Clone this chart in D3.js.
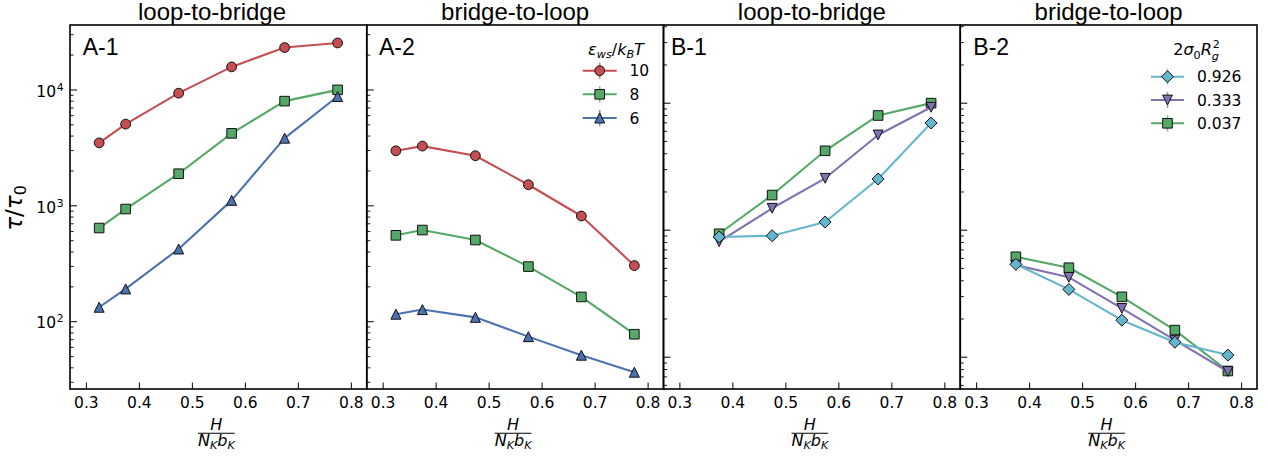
<!DOCTYPE html>
<html>
<head>
<meta charset="utf-8">
<script src="https://cdn.jsdelivr.net/npm/d3@7"></script>
<style>
  body { margin: 0; background: #fff; }
  svg { display: block; }
</style>
</head>
<body>
<svg id="fig" width="1268" height="459"></svg>
<script>
// ---- data ---------------------------------------------------------------
const hValuesA = [0.325, 0.375, 0.475, 0.575, 0.675, 0.775];
const hValuesB = [0.375, 0.475, 0.575, 0.675, 0.775];

const xTickValues = [0.3, 0.4, 0.5, 0.6, 0.7, 0.8];
const yMajorExponents = [1, 2, 3, 4];

const panelNames = ["A-1", "A-2", "B-1", "B-2"];
const panelTitles = ["loop-to-bridge", "bridge-to-loop", "loop-to-bridge", "bridge-to-loop"];

const epsLabels = ["10", "8", "6"];
const sigmaLabels = ["0.926", "0.333", "0.037"];

// tau / tau0, loop-to-bridge, by wall-segment attraction eps_ws/kBT
const eps10LoopToBridge = [3460, 5020, 9290, 15660, 23000, 25200];
const eps8LoopToBridge  = [637, 929, 1874, 4180, 7930, 9920];
const eps6LoopToBridge  = [132, 190, 420, 1104, 3800, 8700];

// tau / tau0, bridge-to-loop
const eps10BridgeToLoop = [2955, 3245, 2680, 1506, 809, 302];
const eps8BridgeToLoop  = [551, 612, 502, 296, 162, 77.2];
const eps6BridgeToLoop  = [115, 126, 108, 73.6, 50.9, 36.3];

// tau / tau0 by grafting density 2 sigma0 Rg^2
const sigma0926LoopToBridge = [877, 897, 1150, 2507, 6920];
const sigma0333LoopToBridge = [805, 1475, 2540, 5570, 9200];
const sigma0037LoopToBridge = [929, 1874, 4180, 7930, 9920];

const sigma0926BridgeToLoop = [534, 339, 194, 130, 103];
const sigma0333BridgeToLoop = [527, 422, 240, 135, 76.5];
const sigma0037BridgeToLoop = [612, 502, 296, 162, 77.2];

// ---- styling ------------------------------------------------------------
const RED = "#c44e52", GREEN = "#55a868", BLUE = "#4c72b0",
      PURPLE = "#8172b2", CYAN = "#64b5cd";

// marker shapes for d3.symbol; size = (full extent in px)^2
const mkCircle = { draw(c, s) { const r = Math.sqrt(s) / 2; c.moveTo(r, 0); c.arc(0, 0, r, 0, 2 * Math.PI); } };
const mkSquare = { draw(c, s) { const h = Math.sqrt(s) / 2; c.rect(-h, -h, 2 * h, 2 * h); } };
const mkTriUp = { draw(c, s) { const h = Math.sqrt(s) / 2; c.moveTo(0, -h); c.lineTo(h, h); c.lineTo(-h, h); c.closePath(); } };
const mkTriDown = { draw(c, s) { const h = Math.sqrt(s) / 2; c.moveTo(0, h); c.lineTo(h, -h); c.lineTo(-h, -h); c.closePath(); } };
const mkDiamond = { draw(c, s) { const h = Math.sqrt(s) / 2; c.moveTo(0, -h); c.lineTo(h, 0); c.lineTo(0, h); c.lineTo(-h, 0); c.closePath(); } };

const markerSize = new Map([[mkCircle, 9.8], [mkSquare, 9.6], [mkTriUp, 10], [mkTriDown, 9.8], [mkDiamond, 12]]);

// ---- layout -------------------------------------------------------------
const svg = d3.select("#fig");
const plotTop = 25, plotBottom = 389;
const firstLeft = 70, panelW = 296.75;
const titleX = [212, null, null, null];
const labelX = [82.7, 379, 671, 973.3];

const yA = d3.scaleLog().domain([26, 36000]).range([plotBottom, plotTop]);
const yB = d3.scaleLog().domain([55.7, 40900]).range([plotBottom, plotTop]);

const panels = [
  { y: yA, yLabels: true, xs: hValuesA,
    series: [
      { v: eps10LoopToBridge, color: RED, marker: mkCircle },
      { v: eps8LoopToBridge, color: GREEN, marker: mkSquare },
      { v: eps6LoopToBridge, color: BLUE, marker: mkTriUp } ] },
  { y: yA, yLabels: false, xs: hValuesA,
    series: [
      { v: eps10BridgeToLoop, color: RED, marker: mkCircle },
      { v: eps8BridgeToLoop, color: GREEN, marker: mkSquare },
      { v: eps6BridgeToLoop, color: BLUE, marker: mkTriUp } ],
    legend: { titleKind: "eps", labels: epsLabels,
      items: [[RED, mkCircle], [GREEN, mkSquare], [BLUE, mkTriUp]],
      x0: 582.7, x1: 616.7, textX: 629.5, rows: [70.7, 94.3, 118], titleX: 616, titleY: 54.5 } },
  { y: yB, yLabels: false, xs: hValuesB,
    series: [
      { v: sigma0037LoopToBridge, color: GREEN, marker: mkSquare },
      { v: sigma0333LoopToBridge, color: PURPLE, marker: mkTriDown },
      { v: sigma0926LoopToBridge, color: CYAN, marker: mkDiamond } ] },
  { y: yB, yLabels: false, xs: hValuesB,
    series: [
      { v: sigma0037BridgeToLoop, color: GREEN, marker: mkSquare },
      { v: sigma0333BridgeToLoop, color: PURPLE, marker: mkTriDown },
      { v: sigma0926BridgeToLoop, color: CYAN, marker: mkDiamond } ],
    legend: { titleKind: "sigma", labels: sigmaLabels,
      items: [[CYAN, mkDiamond], [PURPLE, mkTriDown], [GREEN, mkSquare]],
      x0: 1151, x1: 1184, textX: 1197, rows: [76.7, 100, 123.3], titleX: 1196.5, titleY: 55 } }
];

const MATH = "'DejaVu Sans', sans-serif";
const SANS = "'Liberation Sans', Arial, sans-serif";

function minorTicks(scale) {
  const [lo, hi] = scale.domain();
  const out = [];
  for (let e = Math.floor(Math.log10(lo)); e <= Math.ceil(Math.log10(hi)); e++) {
    for (let m = 2; m <= 9; m++) {
      const v = m * Math.pow(10, e);
      if (v >= lo && v <= hi) out.push(v);
    }
  }
  return out;
}

function drawSymbol(g, type, cx, cy, color) {
  const s = markerSize.get(type);
  g.append("path")
    .attr("d", d3.symbol().type(type).size(s * s)())
    .attr("transform", `translate(${cx},${cy})`)
    .attr("fill", color)
    .attr("stroke", "#111")
    .attr("stroke-width", 1);
}

panels.forEach((p, i) => {
  const left = firstLeft + i * panelW;
  const right = left + panelW;
  const x = d3.scaleLinear().domain([0.27, 0.83]).range([left, right]);
  const y = p.y;
  const g = svg.append("g");

  // bottom axis, ticks pointing inward
  const xAxis = d3.axisBottom(x).tickValues(xTickValues)
    .tickSizeInner(-6.5).tickSizeOuter(0).tickPadding(8)
    .tickFormat(d3.format(".1f"));
  const gx = g.append("g").attr("transform", `translate(0,${plotBottom})`).call(xAxis);
  gx.select(".domain").remove();
  gx.selectAll("line").attr("stroke", "#000").attr("stroke-width", 1);
  gx.selectAll("text").attr("font-family", MATH).attr("font-size", 15.5).attr("fill", "#000");

  // left axis: decades and minor ticks
  const majors = yMajorExponents.map(e => Math.pow(10, e)).filter(v => v >= y.domain()[0] && v <= y.domain()[1]);
  const yAxis = d3.axisLeft(y).tickValues(majors)
    .tickSizeInner(-7).tickSizeOuter(0).tickPadding(6.5)
    .tickFormat(p.yLabels ? (d => String(Math.round(Math.log10(d)))) : () => "");
  const gy = g.append("g").attr("transform", `translate(${left},0)`).call(yAxis);
  gy.select(".domain").remove();
  gy.selectAll("line").attr("stroke", "#000").attr("stroke-width", 1);
  if (p.yLabels) {
    gy.selectAll("text").each(function () {
      const t = d3.select(this);
      const ex = t.text();
      t.text(null).attr("font-family", MATH).attr("font-size", 15.5)
        .attr("fill", "#000").attr("dy", "0.43em");
      t.append("tspan").text("10");
      t.append("tspan").attr("font-size", 10.8).attr("dy", -6).attr("dx", 0.6).text(ex);
    });
  }
  const gym = g.append("g").attr("transform", `translate(${left},0)`)
    .call(d3.axisLeft(y).tickValues(minorTicks(y)).tickSizeInner(-3.6).tickSizeOuter(0).tickFormat(() => ""));
  gym.select(".domain").remove();
  gym.selectAll("line").attr("stroke", "#000").attr("stroke-width", 0.9);

  // data
  const line = d3.line().x((d, k) => x(p.xs[k])).y(d => y(d));
  p.series.forEach(s => {
    const sg = g.append("g");
    sg.append("path").datum(s.v).attr("d", line)
      .attr("fill", "none").attr("stroke", s.color).attr("stroke-width", 2.1)
      .attr("stroke-linejoin", "round");
    s.v.forEach((v, k) => drawSymbol(sg, s.marker, x(p.xs[k]), y(v), s.color));
  });

  // frame
  g.append("rect").attr("x", left).attr("y", plotTop).attr("width", panelW).attr("height", plotBottom - plotTop)
    .attr("fill", "none").attr("stroke", "#000").attr("stroke-width", 1.6);

  // panel tag and title
  g.append("text").attr("x", labelX[i]).attr("y", 54.5)
    .attr("font-family", SANS).attr("font-size", 23).text(panelNames[i]);
  g.append("text").attr("x", titleX[i] ?? (left + right) / 2).attr("y", 20)
    .attr("text-anchor", "middle").attr("font-family", SANS).attr("font-size", 24)
    .text(panelTitles[i]);

  // x label: H / (N_K b_K)
  const cx = (left + right) / 2 - 2;
  const xl = g.append("g").attr("font-family", MATH).attr("font-size", 16).attr("fill", "#000");
  xl.append("text").attr("x", cx).attr("y", 430).attr("text-anchor", "middle")
    .attr("font-style", "italic").text("H");
  xl.append("line").attr("x1", cx - 18.3).attr("x2", cx + 18.3).attr("y1", 433.3).attr("y2", 433.3)
    .attr("stroke", "#000").attr("stroke-width", 1.1);
  const den = xl.append("text").attr("x", cx).attr("y", 446).attr("text-anchor", "middle")
    .attr("font-style", "italic");
  den.append("tspan").text("N");
  den.append("tspan").attr("font-size", 11.2).attr("dy", 3).text("K");
  den.append("tspan").attr("dy", -3).text("b");
  den.append("tspan").attr("font-size", 11.2).attr("dy", 3).text("K");

  // legend
  if (p.legend) {
    const L = p.legend;
    const lg = g.append("g");
    const tt = lg.append("text").attr("x", L.titleX).attr("y", L.titleY).attr("text-anchor", "middle")
      .attr("font-family", MATH).attr("font-size", 16).attr("fill", "#000");
    if (L.titleKind === "eps") {
      tt.append("tspan").attr("font-style", "italic").text("ε");
      tt.append("tspan").attr("font-style", "italic").attr("font-size", 11.2).attr("dy", 3.5).text("ws");
      tt.append("tspan").attr("dy", -3.5).text("/");
      tt.append("tspan").attr("font-style", "italic").text("k");
      tt.append("tspan").attr("font-style", "italic").attr("font-size", 11.2).attr("dy", 3.5).text("B");
      tt.append("tspan").attr("font-style", "italic").attr("dy", -3.5).text("T");
    } else {
      tt.append("tspan").text("2");
      tt.append("tspan").attr("font-style", "italic").text("σ");
      tt.append("tspan").attr("font-size", 11.2).attr("dy", 3.5).text("0");
      tt.append("tspan").attr("font-style", "italic").attr("dy", -3.5).text("R");
      tt.append("tspan").attr("font-style", "italic").attr("font-size", 11.2).attr("dy", 4.5).text("g");
      tt.append("tspan").attr("font-size", 11.2).attr("dx", -6.3).attr("dy", -11.5).text("2");
    }
    L.items.forEach(([color, mk], k) => {
      const ry = L.rows[k];
      const mx = (L.x0 + L.x1) / 2;
      lg.append("line").attr("x1", mx).attr("x2", mx).attr("y1", ry - 8).attr("y2", ry + 8)
        .attr("stroke", color).attr("stroke-width", 1.6).attr("opacity", 0.75);
      lg.append("line").attr("x1", L.x0).attr("x2", L.x1).attr("y1", ry).attr("y2", ry)
        .attr("stroke", color).attr("stroke-width", 2.1);
      drawSymbol(lg, mk, mx, ry, color);
      lg.append("text").attr("x", L.textX).attr("y", ry + 5.6)
        .attr("font-family", MATH).attr("font-size", 15.5).attr("fill", "#000").text(L.labels[k]);
    });
  }
});

// y label: tau / tau0
const yl = svg.append("text").attr("transform", "translate(22,208) rotate(-90)")
  .attr("text-anchor", "middle").attr("font-family", MATH).attr("font-size", 23).attr("fill", "#000");
yl.append("tspan").attr("font-style", "italic").text("τ");
yl.append("tspan").text("/");
yl.append("tspan").attr("font-style", "italic").text("τ");
yl.append("tspan").attr("font-size", 16).attr("dy", 4).text("0");
</script>
</body>
</html>
